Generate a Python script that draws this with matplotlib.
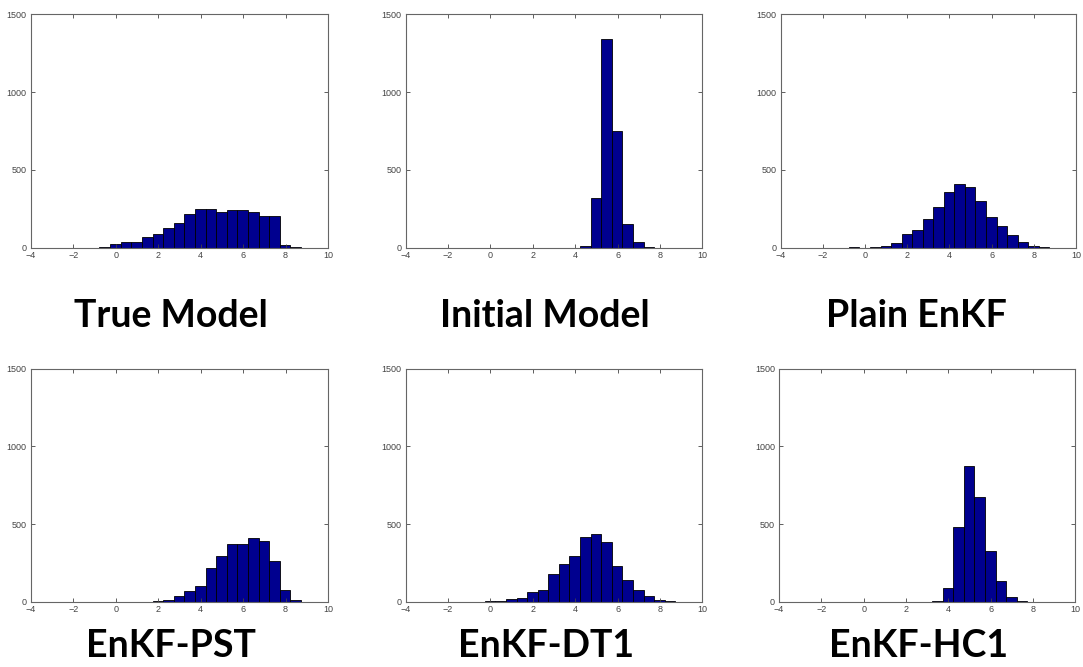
import matplotlib
matplotlib.use("Agg")
import matplotlib.pyplot as plt
import numpy as np

# Shared histogram bin grid: 0.5-wide bins starting at -1.77
bin_start = -1.77
bin_width = 0.5
n_bins = 21

# Counts per bin (index 0 = first bin of the grid), one list per ensemble
true_model = [2, 3, 7, 23, 36, 36, 70, 92, 128, 162, 216, 248, 252, 229, 241, 246, 229, 207, 207, 21, 8]
initial_model = [0] * 12 + [10, 320, 1340, 752, 154, 41, 6]
plain_enkf = [0, 0, 4, 0, 5, 12, 34, 88, 115, 188, 263, 361, 408, 391, 299, 197, 141, 83, 41, 15, 6]
enkf_pst = [0] * 6 + [3, 5, 15, 41, 68, 101, 221, 296, 373, 373, 413, 392, 261, 79, 11]
enkf_dt1 = [0] * 3 + [5, 8, 17, 28, 62, 77, 182, 245, 298, 420, 437, 388, 233, 141, 77, 41, 15, 6]
enkf_hc1 = [0] * 10 + [8, 88, 484, 872, 675, 326, 133, 34, 6]

titles = ["True Model", "Initial Model", "Plain EnKF", "EnKF-PST", "EnKF-DT1", "EnKF-HC1"]
series = [true_model, initial_model, plain_enkf, enkf_pst, enkf_dt1, enkf_hc1]

x_ticks = [-4, -2, 0, 2, 4, 6, 8, 10]
y_ticks = [0, 500, 1000, 1500]

fig = plt.figure(figsize=(10.83, 6.67), dpi=100)
fig.patch.set_facecolor("white")

# Axes rectangles [left, bottom, width, height] in figure fractions
rects = [
    [0.0286, 0.6282, 0.2742, 0.3508],
    [0.3746, 0.6282, 0.2739, 0.3508],
    [0.7209, 0.6282, 0.2727, 0.3508],
    [0.0286, 0.0975, 0.2742, 0.3498],
    [0.3746, 0.0975, 0.2739, 0.3498],
    [0.7193, 0.0975, 0.2736, 0.3498],
]
title_pos = [(171, 316), (545, 316), (916, 316), (171, 646), (546, 646), (919, 646)]

edges = bin_start + bin_width * np.arange(n_bins + 1)

for rect, counts, title, (tx, ty) in zip(rects, series, titles, title_pos):
    ax = fig.add_axes(rect)
    counts = np.array(counts + [0] * (n_bins - len(counts)))
    mask = counts > 0
    ax.bar(edges[:-1][mask], counts[mask], width=bin_width, align="edge",
           color="#00008F", edgecolor="black", linewidth=0.6)
    ax.set_xlim(-4, 10)
    ax.set_ylim(0, 1500)
    ax.set_xticks(x_ticks)
    ax.set_yticks(y_ticks)
    ax.tick_params(direction="in", length=3, width=0.6, top=True, right=True,
                   labelsize=6.5, colors="#444444")
    ax.tick_params(axis="x", pad=2.5)
    ax.tick_params(axis="y", pad=3)
    for lab in ax.get_xticklabels() + ax.get_yticklabels():
        lab.set_fontfamily("Liberation Sans")
    for sp in ax.spines.values():
        sp.set_color("#666666")
        sp.set_linewidth(0.8)
    fig.text(tx / 1083, 1 - ty / 667, title, ha="center", va="center",
             fontsize=27, fontweight="bold", family="Lato", color="black")

fig.savefig("out.png", dpi=100, facecolor="white")
